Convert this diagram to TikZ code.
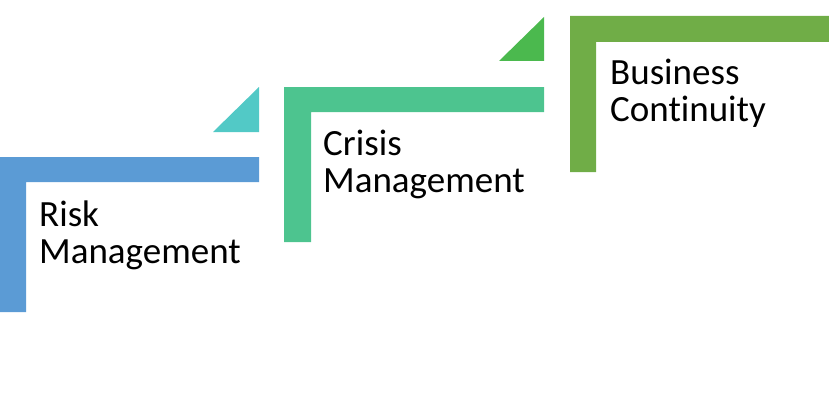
\documentclass[tikz,border=0pt]{standalone}
\usepackage{fontspec}
\setmainfont{Carlito}[Ligatures=NoCommon]
\definecolor{riskblue}{HTML}{5B9BD5}
\definecolor{riskteal}{HTML}{52C9C6}
\definecolor{crisisgreen}{HTML}{4DC48F}
\definecolor{crisisleaf}{HTML}{4BB94E}
\definecolor{bcgreen}{HTML}{70AD47}

\begin{document}
\begin{tikzpicture}[x=1pt, y=-1pt,
  step label/.style={anchor=base west, inner sep=0pt, align=left, font=\fontsize{37}{37}\selectfont}
]
\useasboundingbox (0,0) rectangle (829,404);
% stair 1
\fill[riskblue] (0,157) -- (259,157) -- (259,182) -- (26,182) -- (26,312) -- (0,312) -- cycle;
\fill[riskteal] (213,132) -- (259,132) -- (259,87) -- cycle;
\node[step label] (risk) at (39,263) {Risk\\Management};
% stair 2
\fill[crisisgreen] (284,87) -- (544,87) -- (544,112) -- (311,112) -- (311,242) -- (284,242) -- cycle;
\fill[crisisleaf] (499,61) -- (544,61) -- (544,17) -- cycle;
\node[step label] (crisis) at (323,192) {Crisis\\Management};
% stair 3
\fill[bcgreen] (570,16) -- (829,16) -- (829,42) -- (596,42) -- (596,172) -- (570,172) -- cycle;
\node[step label] (continuity) at (610,121) {Business\\Continuity};
\end{tikzpicture}
\end{document}
